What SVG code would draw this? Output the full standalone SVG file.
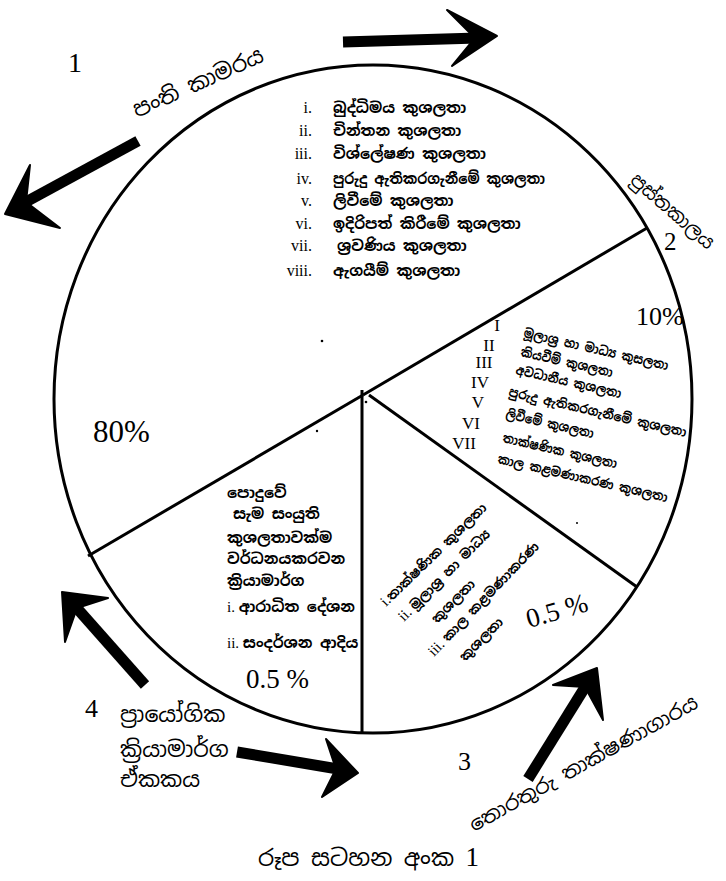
<svg xmlns="http://www.w3.org/2000/svg" width="726" height="881" viewBox="0 0 726 881">
<style>
.si{font-family:"Noto Sans Sinhala","Noto Serif Sinhala","Noto Sans",sans-serif;fill:#000}
.b{font-weight:700}
.lat{font-family:"Liberation Serif","Times New Roman",serif;fill:#000;font-weight:400}
.pie{fill:none;stroke:#000;stroke-width:3}
.shaft{fill:none;stroke:#000;stroke-width:11;stroke-linecap:butt}
.head{fill:#000;stroke:#000;stroke-width:2;stroke-linejoin:round}
.l1{font-size:15px}
.r2{font-size:13px}
</style>
<rect width="726" height="881" fill="#fff"/>
<g id="pie">
<ellipse class="pie" cx="373" cy="399" rx="319" ry="334"/>
<line class="pie" x1="363" y1="395" x2="647" y2="228"/>
<line class="pie" x1="363" y1="395" x2="88" y2="556"/>
<line class="pie" x1="362" y1="390" x2="362" y2="733"/>
<line class="pie" x1="369" y1="395" x2="637" y2="587"/>
<circle cx="322" cy="341" r="1.3"/><circle cx="317" cy="431" r="1.2"/><circle cx="366" cy="402" r="1.3"/><circle cx="577" cy="523" r="1"/>
</g>
<g id="sector1">
<text class="lat" x="68" y="72" font-size="28">1</text>
<text class="si" x="137" y="118" font-size="22" transform="rotate(-24 137 118)">පංති කාමරය</text>
<g class="lat" font-size="16" text-anchor="end">
<text x="312" y="113">i.</text><text x="312" y="136">ii.</text><text x="312" y="159">iii.</text><text x="312" y="184">iv.</text>
<text x="312" y="206">v.</text><text x="312" y="229">vi.</text><text x="312" y="251">vii.</text><text x="312" y="276">viii.</text>
</g>
<g class="si b l1">
<text x="333" y="113">බුද්ධිමය කුශලතා</text>
<text x="333" y="136">චින්තන කුශලතා</text>
<text x="333" y="159">විශ්ලේෂණ කුශලතා</text>
<text x="333" y="184" textLength="212" lengthAdjust="spacingAndGlyphs">පුරුදු ඇතිකරගැනීමේ කුශලතා</text>
<text x="333" y="206">ලිවීමේ කුශලතා</text>
<text x="333" y="229">ඉදිරිපත් කිරීමේ කුශලතා</text>
<text x="337" y="251">ශ්‍රවණිය කුශලතා</text>
<text x="333" y="276">ඇගයීම් කුශලතා</text>
</g>
<text class="lat" x="93" y="442" font-size="31">80%</text>
</g>
<g id="sector2">
<text class="si" x="629" y="182" font-size="19" transform="rotate(41 629 182)" textLength="104" lengthAdjust="spacingAndGlyphs">පුස්තකාලය</text>
<text class="lat" x="664" y="250" font-size="25">2</text>
<text class="lat" x="636" y="325" font-size="26">10%</text>
<g class="lat" font-size="17" text-anchor="middle">
<text x="497" y="331">I</text><text x="489" y="351">II</text><text x="484" y="368">III</text><text x="480" y="388">IV</text>
<text x="478" y="408">V</text><text x="471" y="429">VI</text><text x="464" y="449">VII</text>
</g>
<g class="si b r2">
<text x="523" y="337" transform="rotate(13 523 337)" textLength="148" lengthAdjust="spacingAndGlyphs">මූලාශ්‍ර හා මාධ්‍ය කුසලතා</text>
<text x="520" y="356" transform="rotate(13 520 356)" textLength="94" lengthAdjust="spacingAndGlyphs">කියවීම් කුශලතා</text>
<text x="515" y="374" transform="rotate(13 515 374)" textLength="108" lengthAdjust="spacingAndGlyphs">අවධානීය කුශලතා</text>
<text x="508" y="396" transform="rotate(13 508 396)" textLength="182" lengthAdjust="spacingAndGlyphs">පුරුදු ඇතිකරගැනීමේ කුශලතා</text>
<text x="505" y="418" transform="rotate(13 505 418)" textLength="90" lengthAdjust="spacingAndGlyphs">ලිවීමේ කුශලතා</text>
<text x="502" y="442" transform="rotate(13 502 442)" textLength="117" lengthAdjust="spacingAndGlyphs">තාක්ෂණික කුශලතා</text>
<text x="497" y="463" transform="rotate(13 497 463)" textLength="174" lengthAdjust="spacingAndGlyphs">කාල කළමණාකරණ කුශලතා</text>
</g>
</g>
<g id="sector3">
<g class="si b r2">
<text x="386" y="607" transform="rotate(-44 386 607)"><tspan class="lat" font-size="15">i.</tspan>තාක්ෂණික කුශලතා</text>
<text x="404" y="622" transform="rotate(-45 404 622)"><tspan class="lat" font-size="15">ii. </tspan>මූලාශ්‍ර හා මාධ්‍ය</text>
<text x="437" y="624" transform="rotate(-45 437 624)">කුශලතා</text>
<text x="434" y="657" transform="rotate(-46 434 657)"><tspan class="lat" font-size="15">iii. </tspan>කාල කළමණාකරණ</text>
<text x="465" y="662" transform="rotate(-45 465 662)">කුශලතා</text>
</g>
<text class="lat" x="529" y="628" font-size="27" transform="rotate(-16 529 628)">0.5 %</text>
<text class="lat" x="458" y="770" font-size="26">3</text>
<text class="si" x="474" y="832" font-size="20" transform="rotate(-29 474 832)" textLength="258" lengthAdjust="spacingAndGlyphs">තොරතුරු තාක්ෂණාගාරය</text>
</g>
<g id="sector4">
<g class="si b l1">
<text x="227" y="498">පොදුවේ</text>
<text x="233" y="519">සැම සංයුති</text>
<text x="227" y="543">කුශලතාවක්ම</text>
<text x="227" y="564">වර්ධනයකරවන</text>
<text x="227" y="586">ක්‍රියාමාර්ග</text>
<text x="227" y="612"><tspan class="lat">i. </tspan>ආරාධිත දේශන</text>
<text x="227" y="648"><tspan class="lat">ii. </tspan>සංදර්ශන ආදිය</text>
</g>
<text class="lat" x="246" y="688" font-size="27">0.5 %</text>
<text class="lat" x="85" y="717" font-size="26">4</text>
<g class="si" font-size="22">
<text x="120" y="722">ප්‍රායෝගික</text>
<text x="120" y="757">ක්‍රියාමාර්ග</text>
<text x="120" y="787">ඒකකය</text>
</g>
</g>
<g id="connectors">
<line class="shaft" x1="343" y1="42" x2="478" y2="38"/>
<polygon class="head" points="497,36 447,10 475,38 452,66"/>
<line class="shaft" x1="138" y1="141" x2="24" y2="203"/>
<polygon class="head" points="5,214 30,165 26,202 60,228"/>
<line class="shaft" x1="145" y1="685" x2="75" y2="606"/>
<polygon class="head" points="62,592 108,598 77,608 65,642"/>
<line class="shaft" x1="237" y1="752" x2="338" y2="769"/>
<polygon class="head" points="358,773 326,739 336,769 322,797"/>
<line class="shaft" x1="528" y1="779" x2="587" y2="684"/>
<polygon class="head" points="597,668 603,720 585,687 553,685"/>
</g>
<g id="caption">
<text class="si" x="258" y="866" font-size="23">රූප සටහන අංක <tspan class="lat" font-size="27">1</tspan></text>
</g>
</svg>
